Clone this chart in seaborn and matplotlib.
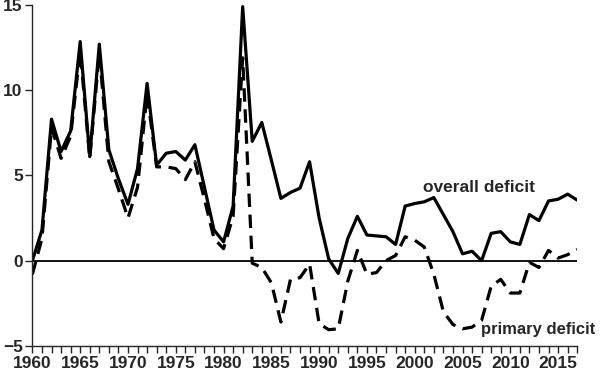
import matplotlib; matplotlib.use("Agg")
import numpy as np
import pandas as pd
import matplotlib.pyplot as plt
import seaborn as sns

years = list(range(1960, 2018))
overall = [0.0, 1.8, 8.3, 6.4, 7.6, 12.85, 6.1, 12.7, 6.5, 4.8,
           3.3, 5.4, 10.4, 5.6, 6.3, 6.4, 5.9, 6.8, 4.3, 1.8,
           1.1, 3.2, 14.9, 7.0, 8.1, 5.9, 3.65, 4.0, 4.25, 5.8,
           2.5, 0.1, -0.75, 1.3, 2.6, 1.5, 1.45, 1.4, 0.95, 3.2,
           3.35, 3.45, 3.7, 2.7, 1.7, 0.4, 0.55, 0.0, 1.6, 1.7,
           1.1, 0.95, 2.7, 2.35, 3.5, 3.6, 3.9, 3.55]
primary = [-0.8, 1.3, 7.8, 6.0, 7.3, 12.3, 6.0, 12.2, 5.8, 4.2,
           2.5, 4.3, 9.8, 5.5, 5.5, 5.4, 4.75, 5.8, 3.6, 1.3,
           0.7, 2.6, 11.9, -0.15, -0.4, -1.3, -3.6, -1.1, -1.0, -0.2,
           -3.7, -4.05, -4.0, -1.2, 0.6, -0.8, -0.7, 0.0, 0.3, 1.4,
           1.2, 0.8, -0.8, -3.0, -3.75, -4.0, -3.9, -3.5, -1.5, -1.1,
           -1.9, -1.9, -0.1, -0.4, 0.6, 0.15, 0.35, 0.65]
labels = ["overall deficit", "primary deficit"]
label_pos = [(2000.9, 4.3), (2006.9, -4.05)]

sns.set_style("ticks")
plt.rcParams["font.family"] = ["Liberation Sans", "DejaVu Sans"]
plt.rcParams["font.weight"] = "bold"

df = pd.DataFrame({"year": years * 2,
                   "value": overall + primary,
                   "series": [labels[0]] * len(years) + [labels[1]] * len(years)})

fig, ax = plt.subplots(figsize=(6, 3.78), dpi=100)
fig.subplots_adjust(left=0.054, right=0.962, top=0.987, bottom=0.085)

sns.lineplot(data=df[df.series == labels[0]], x="year", y="value",
             color="black", lw=2.3, ax=ax, legend=False)
sns.lineplot(data=df[df.series == labels[1]], x="year", y="value",
             color="black", lw=2.3, ax=ax, legend=False)
ax.lines[1].set_dashes([4.2, 2.4])
ax.axhline(0, color="black", lw=1.3, zorder=0)

for txt, (x, y), fs in zip(labels, label_pos, [12.5, 12]):
    ax.text(x, y, txt, fontsize=fs, fontweight="bold", va="center", ha="left",
            clip_on=False)

ax.set_xlim(1960, 2017)
ax.set_ylim(-5, 15)
ax.set_xticks(years, minor=True)
ax.set_xticks(range(1960, 2016, 5))
ax.set_yticks([-5, 0, 5, 10, 15])
ax.tick_params(axis="both", which="both", direction="out", length=5, width=1,
               labelsize=12.5, pad=2)
for t in ax.get_xticklabels() + ax.get_yticklabels():
    t.set_fontweight("bold")
ax.set_xlabel("")
ax.set_ylabel("")
sns.despine(ax=ax)
ax.spines["left"].set_linewidth(1)
ax.spines["bottom"].set_linewidth(1)

fig.savefig("out.png", dpi=100)
